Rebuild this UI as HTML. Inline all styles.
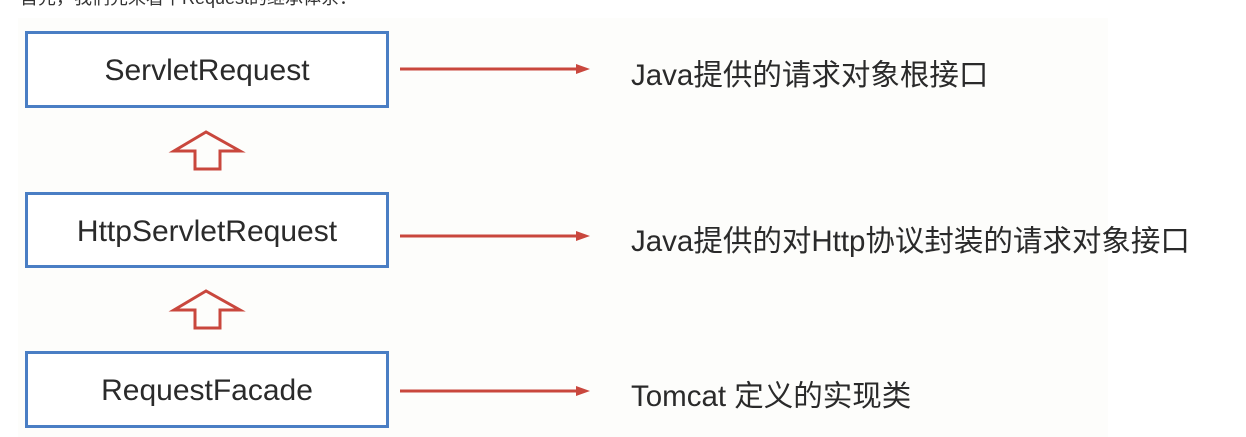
<!DOCTYPE html>
<html><head><meta charset="utf-8"><style>
html,body{margin:0;padding:0;background:#fff;}
body{width:1246px;height:437px;position:relative;overflow:hidden;font-family:"Liberation Sans","Noto Sans CJK SC",sans-serif;}
.bg{position:absolute;left:18px;top:18px;width:1090px;height:419px;background:#fdfdfb;}
.box{position:absolute;left:25px;width:364px;border:3px solid #4a7ec4;background:#fff;display:flex;align-items:center;justify-content:center;font-size:30px;color:#2a2a2a;box-sizing:border-box;padding-top:3px;}
.lbl{position:absolute;left:631px;font-size:29.5px;color:#2a2a2a;white-space:nowrap;}
.top{position:absolute;left:20px;top:-16px;font-size:18px;color:#333;}
</style></head><body>
<div class="bg"></div>
<div class="top">首先，我们先来看下Request的继承体系：</div>
<div class="box" style="top:31px;height:77px;">ServletRequest</div>
<div class="box" style="top:192px;height:76px;">HttpServletRequest</div>
<div class="box" style="top:351px;height:77px;">RequestFacade</div>
<div class="lbl" style="top:52px;">Java提供的请求对象根接口</div>
<div class="lbl" style="top:218px;">Java提供的对Http协议封装的请求对象接口</div>
<div class="lbl" style="top:373px;">Tomcat 定义的实现类</div>
<svg width="1246" height="437" style="position:absolute;left:0;top:0">
<g stroke="#c9473d" stroke-width="3" fill="none">
<line x1="400" y1="69" x2="578" y2="69"/>
<line x1="400" y1="236" x2="578" y2="236"/>
<line x1="400" y1="391" x2="578" y2="391"/>
<polygon points="206,132 174,151 195,151 195,169 220,169 220,151 240,151"/>
<polygon points="206,291 174,310 195,310 195,328 220,328 220,310 240,310"/>
</g>
<g fill="#c9473d">
<polygon points="576,64 590,69 576,74"/>
<polygon points="576,231 590,236 576,241"/>
<polygon points="576,386 590,391 576,396"/>
</g>
</svg>
</body></html>
